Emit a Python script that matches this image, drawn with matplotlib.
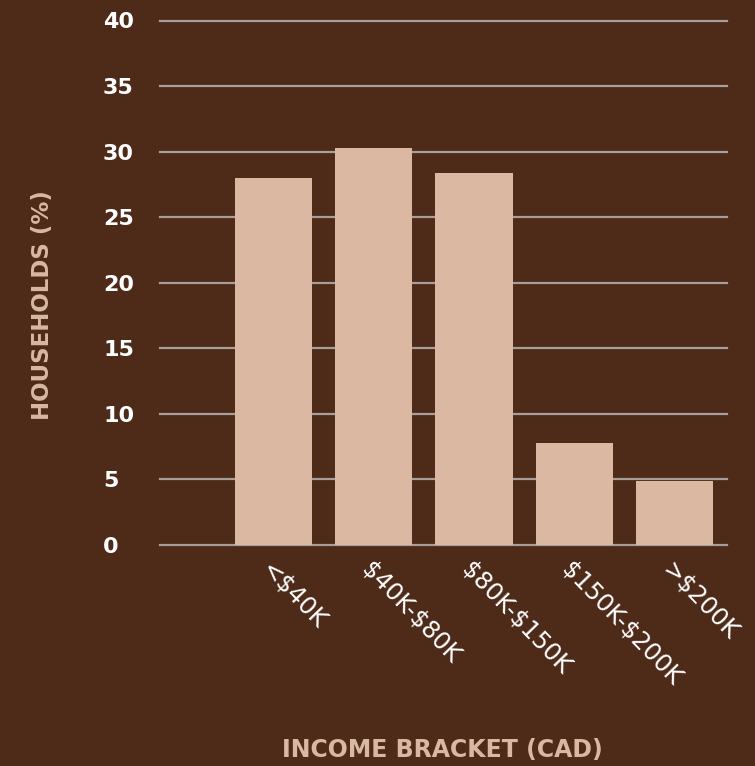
import matplotlib
matplotlib.use("Agg")
import matplotlib.pyplot as plt
import numpy as np

plt.rcParams["text.parse_math"] = False

categories = ["<$40K", "$40K-$80K", "$80K-$150K", "$150K-$200K", ">$200K"]
households_pct = [28.0, 30.3, 28.4, 7.8, 4.9]
yticks = [0, 5, 10, 15, 20, 25, 30, 35, 40]

BG = "#4E2A19"
BAR = "#DBB8A2"
GRID = "#A89E9A"
LABEL = "#D9B8A2"

W, H = 755, 766
fig = plt.figure(figsize=(W / 100, H / 100), dpi=100, facecolor=BG)
ax = fig.add_axes([160 / W, 1 - 545 / H, (727 - 160) / W, (545 - 20.5) / H])
ax.set_facecolor(BG)

x = np.arange(len(categories))
ax.bar(x, households_pct, width=0.77, color=BAR, zorder=3)

ax.set_ylim(0, 40)
ax.set_xlim(-1.13, 4.52)
ax.set_yticks(yticks)
ax.set_yticklabels([str(v) for v in yticks], fontsize=16, fontweight="bold",
                   color="white", ha="left", family="DejaVu Sans")
ax.tick_params(axis="y", length=0, pad=57 * 72 / 100)
ax.yaxis.grid(True, color=GRID, linewidth=1.6, zorder=0)
for gl in ax.get_ygridlines():
    gl.set_clip_on(False)
ax.set_axisbelow(True)

ax.set_xticks(x)
ax.set_xticklabels(categories, rotation=-46, ha="left", va="top",
                   rotation_mode="anchor", fontsize=17.5, color="white",
                   family="DejaVu Sans")
ax.tick_params(axis="x", length=0, pad=9)

for s in ax.spines.values():
    s.set_visible(False)

fig.text(43 / W, 1 - 305 / H, "HOUSEHOLDS (%)", rotation=90, ha="center",
         va="center", fontsize=16.5, fontweight="bold", color=LABEL,
         family="DejaVu Sans")
fig.text(442 / W, 1 - 750 / H, "INCOME BRACKET (CAD)", ha="center",
         va="center", fontsize=17, fontweight="bold", color=LABEL,
         family="DejaVu Sans")

fig.savefig("out.png", dpi=100, facecolor=BG)
